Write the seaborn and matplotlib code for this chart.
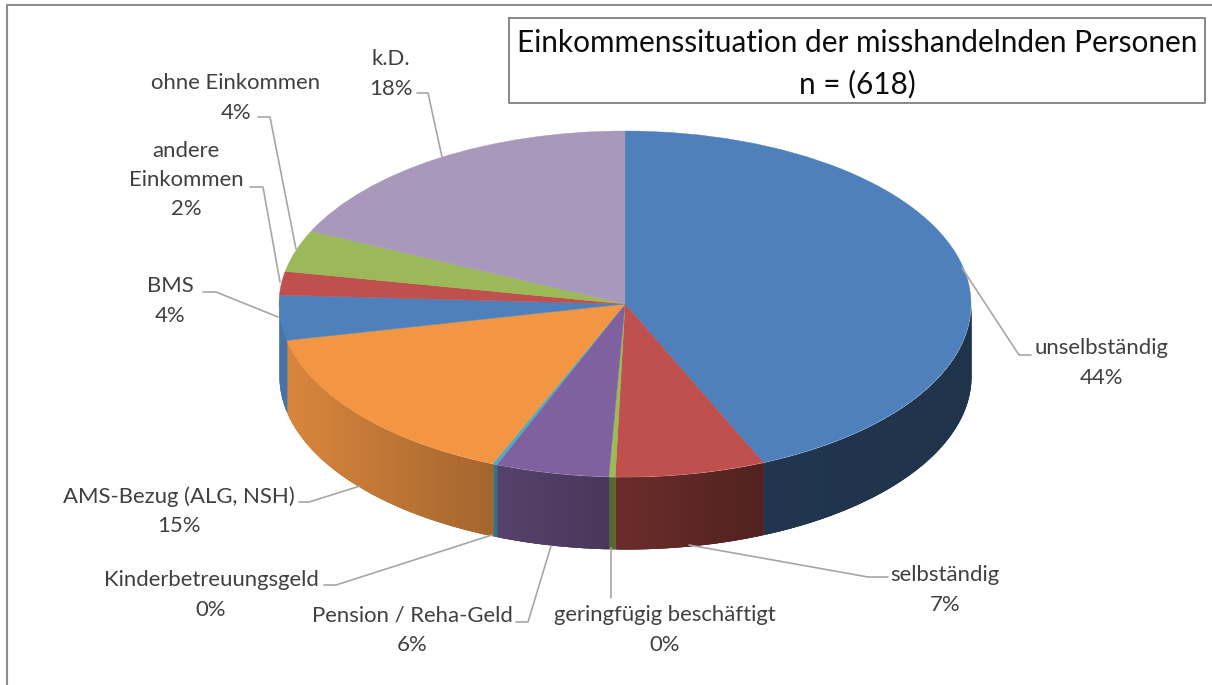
import numpy as np
import matplotlib
matplotlib.use('Agg')
import matplotlib.pyplot as plt
import seaborn as sns

labels = ['unselbständig', 'selbständig', 'geringfügig beschäftigt', 'Pension / Reha-Geld',
          'Kinderbetreuungsgeld', 'AMS-Bezug (ALG, NSH)', 'BMS', 'andere\nEinkommen',
          'ohne Einkommen', 'k.D.']
shares = [43.5, 7.0, 0.3, 5.3, 0.2, 15.4, 4.2, 2.2, 3.9, 18.1]
shown = ['44%', '7%', '0%', '6%', '0%', '15%', '4%', '2%', '4%', '18%']
title = 'Einkommenssituation der misshandelnden Personen\nn = (618)'

sns.set_theme(style='white')
plt.rcParams['font.family'] = ['Lato', 'DejaVu Sans']

W, H = 1212, 685
CX, CY, RX, RY, DEPTH = 625, 304, 346, 173, 72
colors = ['#4e80bb', '#bf504d', '#9bbb59', '#8061a0', '#4bacc6',
          '#f39644', '#4e80bb', '#bf504d', '#9bb958', '#a898bb']

fig = plt.figure(figsize=(W / 100, H / 100), dpi=100)
ax = fig.add_axes([0, 0, 1, 1])


def px(x, y):
    # picture pixels to pie units
    return (x - CX) / RX, (CY - y) / RY


def shade_at(x):
    return np.interp(x, [-1, -0.4, 0.4, 1], [0.9, 0.68, 0.42, 0.4])


d = DEPTH / RY
edges = np.cumsum([0] + shares) / sum(shares) * 2 * np.pi

# side wall, thin overlapping strips so the shade can change with x
for i, color in enumerate(colors):
    a0, a1 = max(edges[i], np.pi / 2), min(edges[i + 1], 3 * np.pi / 2)
    if a1 <= a0:
        continue
    t = np.linspace(a0, a1, max(int((a1 - a0) * 120), 3))
    rgb = np.array(matplotlib.colors.to_rgb(color))
    xs, ys = np.sin(t), np.cos(t)
    ax.fill_between(xs, ys, ys - d, color=rgb * shade_at(xs.mean()), lw=0, zorder=1)
    for j in range(len(t) - 2):
        ax.fill_between(xs[j:j + 3], ys[j:j + 3], ys[j:j + 3] - d,
                        color=rgb * shade_at(xs[j + 1]), lw=0, zorder=1)

wedges, _ = ax.pie(shares, colors=colors, startangle=90, counterclock=False, radius=1,
                   wedgeprops={'lw': 0, 'zorder': 2})
for w, color in zip(wedges, colors):
    w.set_edgecolor(color)
    w.set_linewidth(0.3)
ax.set_aspect('auto')
ax.set_xlim(px(0, 0)[0], px(W, 0)[0])
ax.set_ylim(px(0, H)[1], px(0, 0)[1])
ax.axis('off')

# text centre, then leader line points in picture pixels
label_pos = [(1101, 363), (945, 590), (665, 630), (412, 630), (211, 595),
             (179, 511), (170, 301), (186, 180), (236, 98), (391, 74)]
leaders = [
    [(1031, 355), (1019, 355), (962, 268)],
    [(888, 577), (868, 577), (689, 545)],
    [(611, 598), (611, 548)],
    [(516, 622), (528, 622), (551, 546)],
    [(324, 585), (336, 585), (492, 535)],
    [(299, 502), (309, 502), (360, 486)],
    [(203, 292), (216, 292), (278, 317)],
    [(250, 187), (263, 187), (280, 282)],
    [(258, 117), (270, 117), (296, 249)],
    [(417, 93), (428, 93), (442, 157)],
]
for lab, val, pos, line in zip(labels, shown, label_pos, leaders):
    ax.text(*px(*pos), lab + '\n' + val, ha='center', va='center', fontsize=15.9,
            color='#404040', linespacing=1.58, zorder=5)
    pts = np.array([px(*p) for p in line])
    ax.plot(pts[:, 0], pts[:, 1], color='#a6a6a6', lw=1.2, zorder=4)

# frame lines of the chart area, only top and left are in the crop
ax.plot(*zip(px(7, H), px(7, 5), px(W, 5)), color='#8c8c8c', lw=1.5, zorder=6)

tx, ty = px(857, 64)
ax.text(tx, ty, title, ha='center', va='center', fontsize=21.4, color='#0d0d0d', linespacing=1.53,
        zorder=7)
box = np.array([px(*p) for p in [(509, 18), (1205, 18), (1205, 103), (509, 103), (509, 18)]])
ax.plot(box[:, 0], box[:, 1], color='#7f7f7f', lw=1.3, zorder=6)

fig.savefig('out.png', dpi=100)
